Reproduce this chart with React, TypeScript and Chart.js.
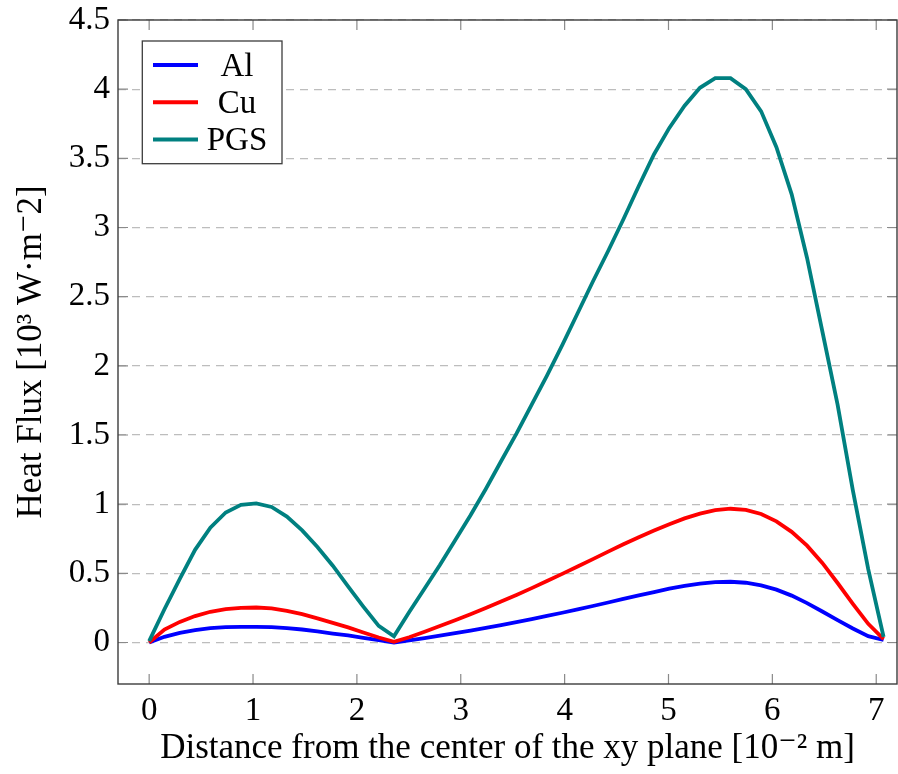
import React, { useEffect, useRef } from "react";
import { Chart, registerables } from "chart.js";

Chart.register(...registerables);

// x positions (10^-2 m)
const xValues = [
  0, 0.147, 0.295, 0.442, 0.589, 0.737, 0.884, 1.031, 1.179, 1.326, 1.473, 1.62, 1.768, 1.915, 2.062, 2.21,
  2.357, 2.504, 2.652, 2.799, 2.946, 3.094, 3.241, 3.388, 3.536, 3.683, 3.83, 3.977, 4.125, 4.272, 4.419, 4.566,
  4.714, 4.861, 5.008, 5.155, 5.303, 5.45, 5.597, 5.744, 5.892, 6.039, 6.186, 6.334, 6.481, 6.628, 6.775, 6.923,
  7.071,
];

const alValues = [
  0, 0.041, 0.07, 0.089, 0.104, 0.111, 0.113, 0.113, 0.111, 0.104, 0.094, 0.08, 0.065, 0.051, 0.034, 0.017,
  0.0, 0.016, 0.032, 0.049, 0.068, 0.086, 0.106, 0.126, 0.147, 0.169, 0.192, 0.215, 0.239, 0.264, 0.289, 0.315,
  0.34, 0.364, 0.389, 0.41, 0.426, 0.436, 0.439, 0.432, 0.413, 0.382, 0.339, 0.285, 0.224, 0.162, 0.101, 0.046,
  0.018,
];

const cuValues = [
  0, 0.094, 0.149, 0.191, 0.222, 0.241, 0.251, 0.253, 0.246, 0.229, 0.205, 0.174, 0.142, 0.109, 0.072, 0.036,
  0.005, 0.038, 0.078, 0.119, 0.161, 0.205, 0.25, 0.297, 0.344, 0.393, 0.444, 0.496, 0.549, 0.603, 0.657, 0.71,
  0.761, 0.809, 0.855, 0.897, 0.932, 0.957, 0.967, 0.959, 0.929, 0.876, 0.8, 0.7, 0.575, 0.43, 0.28, 0.135,
  0.025,
];

const pgsValues = [
  0.01, 0.24, 0.46, 0.67, 0.83, 0.94, 0.995, 1.005, 0.98, 0.91, 0.81, 0.69, 0.555, 0.405, 0.26, 0.12,
  0.045, 0.22, 0.39, 0.56, 0.74, 0.92, 1.11, 1.31, 1.51, 1.72, 1.93, 2.15, 2.38, 2.61, 2.83, 3.06,
  3.3, 3.53, 3.72, 3.88, 4.01, 4.08, 4.08, 4.0, 3.84, 3.58, 3.24, 2.78, 2.25, 1.72, 1.1, 0.53,
  0.04,
];

const seriesLabels = ["Al", "Cu", "PGS"];
const seriesColors = ["#0000ff", "#ff0000", "#008080"];

const xTicks = [0, 1, 2, 3, 4, 5, 6, 7];
const yTicks = [0, 0.5, 1, 1.5, 2, 2.5, 3, 3.5, 4, 4.5];

const xTitle = "Distance from the center of the xy plane [10\u207B\u00B2 m]";
const yTitle = "Heat Flux [10\u00B3 W\u00B7m\u207B2]";

const FONT = "'Liberation Serif', 'DejaVu Serif', serif";

const framePlugin = {
  id: "pgfFrame",
  afterDatasetsDraw(chart: any) {
    const { ctx, chartArea: a, scales } = chart;
    ctx.save();
    // inner tick marks
    ctx.strokeStyle = "#8a8a8a";
    ctx.lineWidth = 1.2;
    ctx.setLineDash([]);
    ctx.beginPath();
    for (const v of xTicks) {
      const px = scales.x.getPixelForValue(v);
      ctx.moveTo(px, a.bottom);
      ctx.lineTo(px, a.bottom - 10);
      ctx.moveTo(px, a.top);
      ctx.lineTo(px, a.top + 10);
    }
    for (const v of yTicks) {
      const py = scales.y.getPixelForValue(v);
      ctx.moveTo(a.left, py);
      ctx.lineTo(a.left + 10, py);
      ctx.moveTo(a.right, py);
      ctx.lineTo(a.right - 10, py);
    }
    ctx.stroke();

    // axis box
    ctx.strokeStyle = "#3c3c3c";
    ctx.lineWidth = 1.4;
    ctx.strokeRect(a.left, a.top, a.right - a.left, a.bottom - a.top);

    // legend
    const bx = a.left + 24.3;
    const by = a.top + 21;
    const bw = 139.7;
    const bh = 122.7;
    ctx.fillStyle = "#ffffff";
    ctx.fillRect(bx, by, bw, bh);
    ctx.strokeStyle = "#3c3c3c";
    ctx.lineWidth = 1.3;
    ctx.strokeRect(bx, by, bw, bh);
    ctx.font = `33px ${FONT}`;
    ctx.textAlign = "center";
    ctx.textBaseline = "alphabetic";
    chart.data.datasets.forEach((ds: any, i: number) => {
      const ly = by + 24 + i * 37.2;
      ctx.strokeStyle = ds.borderColor;
      ctx.lineWidth = 4;
      ctx.beginPath();
      ctx.moveTo(bx + 10.7, ly);
      ctx.lineTo(bx + 55.7, ly);
      ctx.stroke();
      ctx.fillStyle = "#000000";
      ctx.fillText(ds.label, bx + 94.7, ly + 11);
    });
    ctx.restore();
  },
};

export default function App() {
  const canvasRef = useRef<HTMLCanvasElement | null>(null);

  useEffect(() => {
    const canvas = canvasRef.current;
    if (!canvas) return;
    const seriesValues = [alValues, cuValues, pgsValues];
    const datasets = seriesLabels.map((label, i) => ({
      label,
      data: xValues.map((x, j) => ({ x, y: seriesValues[i][j] })),
      borderColor: seriesColors[i],
      backgroundColor: seriesColors[i],
      borderWidth: 3.8,
      pointRadius: 0,
      tension: 0,
      fill: false,
      order: 2 - i,
    }));

    const chart = new Chart(canvas, {
      type: "line",
      data: { datasets },
      options: {
        animation: false,
        responsive: false,
        devicePixelRatio: 1,
        layout: { padding: { top: 20, right: 1, left: 0, bottom: 0 } },
        plugins: {
          legend: { display: false },
          tooltip: { enabled: false },
        },
        scales: {
          x: {
            type: "linear",
            min: -0.3,
            max: 7.2,
            afterFit: (s: any) => {
              s.height = 90;
              s.paddingLeft = 0;
              s.paddingRight = 0;
            },
            afterBuildTicks: (s: any) => {
              s.ticks = xTicks.map((v) => ({ value: v }));
            },
            grid: { display: false, drawTicks: false },
            border: { display: false },
            ticks: {
              color: "#000",
              padding: 8,
              maxRotation: 0,
              autoSkip: false,
              font: { family: FONT, size: 33, lineHeight: 1.2 },
              callback: (v: any) => String(v),
            },
            title: {
              display: true,
              text: xTitle,
              color: "#000",
              font: { family: FONT, size: 35, lineHeight: 1.2 },
              padding: { top: 0, bottom: 4 },
            },
          },
          y: {
            type: "linear",
            min: -0.3,
            max: 4.5,
            afterFit: (s: any) => {
              s.width = 118;
              s.paddingTop = 0;
              s.paddingBottom = 0;
            },
            afterBuildTicks: (s: any) => {
              s.ticks = yTicks.map((v) => ({ value: v }));
            },
            grid: {
              display: true,
              drawTicks: false,
              color: "#bdbdbd",
              lineWidth: 1.3,
            },
            border: { display: false, dash: [8, 6] },
            ticks: {
              color: "#000",
              padding: 8,
              autoSkip: false,
              font: { family: FONT, size: 33, lineHeight: 1.2 },
              callback: (v: any) => String(v),
            },
            title: {
              display: true,
              text: yTitle,
              color: "#000",
              font: { family: FONT, size: 35, lineHeight: 1.2 },
              padding: { top: 11, bottom: 0 },
            },
          },
        },
      },
      plugins: [framePlugin],
    });
    return () => chart.destroy();
  }, []);

  return (
    <div style={{ position: "fixed", left: 0, top: 0, width: 898, height: 774, background: "#fff" }}>
      <canvas ref={canvasRef} width={898} height={774} style={{ display: "block", width: 898, height: 774 }} />
    </div>
  );
}
